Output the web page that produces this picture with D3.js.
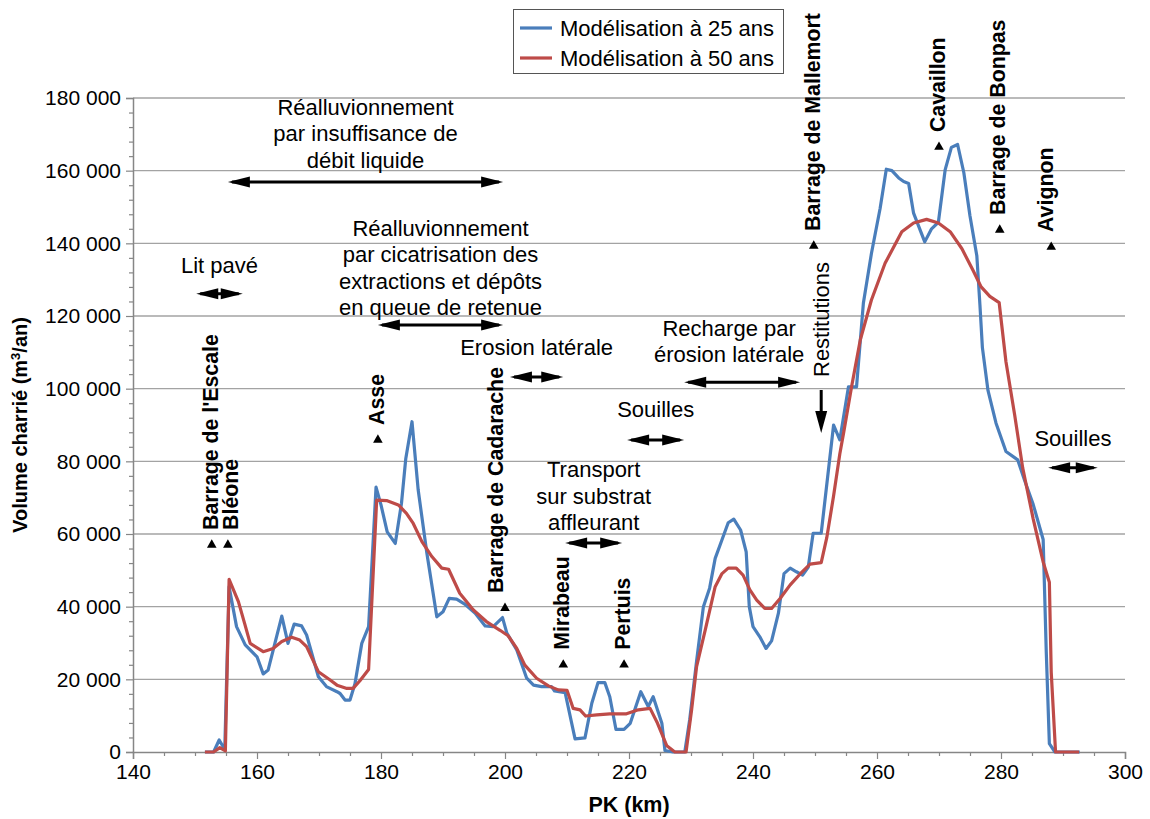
<!DOCTYPE html>
<html><head><meta charset="utf-8">
<script src="https://cdn.jsdelivr.net/npm/d3@7"></script>
<style>
body{margin:0;background:#fff}
text{font-family:"Liberation Sans",Arial,sans-serif;fill:#000}
</style>
</head><body>
<svg id="chart" width="1150" height="819"></svg>
<script>
// ---------------- DATA ----------------
const seriesNames = ["Modélisation à 25 ans", "Modélisation à 50 ans"];

const pk25 = [151.6,153.0,153.9,154.8,155.5,156.7,158.1,160.0,161.0,161.8,164.0,165.0,166.0,167.2,168.0,169.9,171.2,172.9,173.4,174.2,175.0,175.8,176.9,178.0,179.2,180.0,181.0,182.3,183.3,184.0,185.0,186.0,187.4,189.0,190.0,191.0,192.2,193.5,195.2,196.8,198.1,199.6,200.3,201.9,203.5,204.6,205.9,207.5,208.0,209.7,211.3,212.9,214.0,215.0,216.1,216.9,217.9,219.2,220.2,221.9,223.1,223.9,225.3,225.8,227.1,229.0,229.8,230.9,232.0,233.0,233.9,235.0,236.0,236.9,238.0,238.9,239.4,240.0,241.1,242.1,243.0,244.1,245.0,246.0,247.0,248.0,248.9,249.7,251.0,253.0,254.0,255.4,256.7,257.8,259.1,260.5,261.5,262.4,263.5,264.3,265.1,265.9,267.7,268.8,269.9,271.0,272.0,273.0,274.0,275.0,276.1,276.6,277.0,277.9,279.2,280.8,282.7,283.8,285.2,286.8,287.3,287.8,288.7,292.7];
const vol25 = [0,0,3300,700,45500,34500,29500,26200,21500,22600,37400,29900,35200,34700,32200,20700,18000,16600,16100,14300,14300,18800,29900,34500,72900,68000,60600,57400,68400,80800,90900,72100,54700,37200,38600,42300,42100,40700,38200,34700,34500,37000,32700,28100,20300,18400,18000,18000,16800,16300,3600,3900,13400,19100,19100,15200,6200,6200,7900,16600,12500,15200,7900,400,0,0,9000,25000,40000,45100,53300,58400,63100,64100,61100,55100,40000,34500,31700,28500,30600,38200,49100,50600,49600,48700,50800,60200,60200,90000,85900,100500,100500,123500,137200,149600,160400,160000,158000,157000,156500,148300,140400,144000,145800,160300,166400,167200,159500,147500,136600,123100,111300,99500,90500,82700,80400,74800,68100,58500,27600,2300,0,0];

const pk50 = [151.6,153.0,154.0,154.9,155.5,157.0,158.0,158.9,161.0,162.6,164.0,165.6,166.9,168.0,169.9,171.8,172.9,174.5,175.5,176.6,178.0,179.3,180.9,182.8,184.1,185.2,186.6,188.2,189.8,190.9,192.7,194.9,197.0,199.2,200.5,201.9,203.2,205.1,207.0,208.6,210.0,211.0,212.1,213.0,214.8,216.9,219.6,221.5,223.4,224.6,226.1,227.4,229.2,230.1,230.9,232.3,233.9,235.0,236.0,237.3,238.4,239.5,240.6,241.9,243.0,244.4,246.0,247.6,249.2,251.0,251.9,253.0,254.0,254.6,255.9,257.3,259.1,261.3,264.0,265.9,268.0,269.9,271.8,273.7,275.5,276.8,278.2,279.7,280.8,282.2,283.5,285.2,286.8,287.8,288.1,288.8,292.6];
const vol50 = [0,0,1200,300,47500,41400,35400,29900,27600,28500,30400,31600,30800,29000,22100,19800,18400,17500,17500,19600,22700,69300,69200,68000,65700,62900,57900,53800,50600,50300,43700,39100,35900,33500,32000,28500,23900,20300,18200,17100,17000,12000,11600,9900,10200,10500,10500,11600,12000,7900,1700,0,0,11600,23500,33600,45500,49100,50600,50600,48700,44600,41800,39500,39500,42300,46000,49000,51700,52100,59000,70500,82000,87700,100500,113400,124400,134500,143200,145600,146600,145600,143200,138500,132500,128000,125400,123700,107400,92800,78200,64100,52300,46700,22000,0,0];

const xTicks = [140,160,180,200,220,240,260,280,300];
const yTicks = [0,20000,40000,60000,80000,100000,120000,140000,160000,180000];

// sites (triangle markers) : name, PK, volume level of marker
const siteNames = ["Barrage de l'Escale","Bléone","Asse","Barrage de Cadarache","Mirabeau","Pertuis","Barrage de Mallemort","Cavaillon","Barrage de Bonpas","Avignon"];
const sitePK   = [152.7,155.3,179.5,200.0,209.4,219.2,249.8,270.0,279.8,288.1];
const siteVol  = [57000,57000,85900,39600,24000,24000,139300,166500,143700,139000];

// zones (double arrows) : label lines, PK start/end, volume level of arrow
const zoneLabels = [
  ["Réalluvionnement","par insuffisance de","débit liquide"],
  ["Lit pavé"],
  ["Réalluvionnement","par cicatrisation des","extractions et dépôts","en queue de retenue"],
  ["Erosion latérale"],
  ["Recharge par","érosion latérale"],
  ["Souilles"],
  ["Transport","sur substrat","affleurant"],
  ["Souilles"]
];
const zoneStart = [155.3,150.2,179.5,200.8,228.9,219.7,209.7,287.6];
const zoneEnd   = [199.7,157.7,199.7,209.4,247.6,228.9,218.9,295.6];
const zoneVol   = [156900,126100,117500,103200,101800,85900,57500,78200];

const restitutionLabel = "Restitutions";
const restitutionPK = 251.0;

// ---------------- LAYOUT ----------------
const plot = {left:133, right:1125, top:98, bottom:752};
const FS = 21, FA = 22;
const blue = "#4a7ebb", red = "#be4b48";

const svg = d3.select("#chart");
const x = d3.scaleLinear().domain([140,300]).range([plot.left, plot.right]);
const y = d3.scaleLinear().domain([0,180000]).range([plot.bottom, plot.top]);

const fmt = v => d3.format(",")(v).replace(/,/g, " ");

// gridlines
svg.append("g").selectAll("line").data(yTicks.filter(d=>d>0)).join("line")
  .attr("x1", plot.left).attr("x2", plot.right)
  .attr("y1", d=>y(d)).attr("y2", d=>y(d))
  .attr("stroke", "#a3a3a3").attr("stroke-width", 1.3);

// y axis
svg.append("g").attr("transform", `translate(${plot.left},0)`)
  .call(d3.axisLeft(y).tickValues(yTicks).tickFormat(fmt).tickSize(7).tickPadding(5));
const yMinor = svg.append("g").attr("transform", `translate(${plot.left},0)`)
  .call(d3.axisLeft(y).tickValues(d3.range(0,180001,4000).filter(v=>v%20000!==0)).tickFormat("").tickSize(4));
yMinor.select(".domain").remove();

// x axis
svg.append("g").attr("transform", `translate(0,${plot.bottom})`)
  .call(d3.axisBottom(x).tickValues(xTicks).tickFormat(d3.format("d")).tickSize(7).tickPadding(5));
const xMinor = svg.append("g").attr("transform", `translate(0,${plot.bottom})`)
  .call(d3.axisBottom(x).tickValues(d3.range(140,301,5).filter(v=>v%20!==0)).tickFormat("").tickSize(4));
xMinor.select(".domain").remove();

svg.selectAll(".domain").attr("stroke", "#868686").attr("stroke-width", 1.5);
svg.selectAll(".tick line").attr("stroke", "#868686").attr("stroke-width", 1.2);
svg.selectAll(".tick text").attr("font-size", FS).attr("font-family", '"Liberation Sans",Arial,sans-serif').attr("fill", "#000");

// axis titles
svg.append("text").attr("x", x(220)).attr("y", 812)
  .attr("text-anchor", "middle").attr("font-size", 21.5).attr("font-weight", "bold").text("PK (km)");
const yt = svg.append("text").attr("transform", `translate(27,${(plot.top+plot.bottom)/2}) rotate(-90)`)
  .attr("text-anchor", "middle").attr("font-size", 20).attr("font-weight", "bold");
yt.append("tspan").text("Volume charrié (m");
yt.append("tspan").attr("font-size", 13).attr("dy", -7).text("3");
yt.append("tspan").attr("dy", 7).text("/an)");

// series
const line = d3.line().x(d=>x(d[0])).y(d=>y(d[1]));
const s25 = pk25.map((p,i)=>[p, vol25[i]]);
const s50 = pk50.map((p,i)=>[p, vol50[i]]);
svg.append("path").datum(s25).attr("d", line).attr("fill","none").attr("stroke", blue).attr("stroke-width", 3.2).attr("stroke-linejoin","round");
svg.append("path").datum(s50).attr("d", line).attr("fill","none").attr("stroke", red).attr("stroke-width", 3.2).attr("stroke-linejoin","round");

// site markers and vertical labels
const siteDx = [6,10,6,-2,6,6,6,6,5,2];
const tri = d3.symbol().type(d3.symbolTriangle).size(40);
siteNames.forEach((n,i)=>{
  const tx = x(sitePK[i]), ty = y(siteVol[i]);
  svg.append("path").attr("d", tri).attr("transform", `translate(${tx},${ty})`).attr("fill","#000");
  svg.append("text").attr("transform", `translate(${tx+siteDx[i]},${ty-15}) rotate(-90)`)
    .attr("font-size", 21.3).attr("font-weight","bold").text(n);
});

// double arrows
function dArrow(x1, x2, yy, head=22, hw=5.5){
  const g = svg.append("g");
  g.append("line").attr("x1", x1+4).attr("x2", x2-4).attr("y1", yy).attr("y2", yy).attr("stroke","#000").attr("stroke-width",3);
  g.append("path").attr("d", `M${x1},${yy} L${x1+head},${yy-hw} L${x1+head},${yy+hw} Z`).attr("fill","#000");
  g.append("path").attr("d", `M${x2},${yy} L${x2-head},${yy-hw} L${x2-head},${yy+hw} Z`).attr("fill","#000");
}
const zoneGap = [22,29,18,30,28,31,21,30];
const zoneTextDx = [0,0,0,0,-13,0,0,0];
const LH = 26.5;
zoneLabels.forEach((lines,i)=>{
  const x1 = x(zoneStart[i]), x2 = x(zoneEnd[i]), yy = y(zoneVol[i]);
  dArrow(x1, x2, yy);
  const cx = (x1+x2)/2 + zoneTextDx[i];
  const lastC = yy - zoneGap[i];
  lines.forEach((t,k)=>{
    const c = lastC - (lines.length-1-k)*LH;
    svg.append("text").attr("x", cx).attr("y", c + 8).attr("text-anchor","middle").attr("font-size", FA).text(t);
  });
});

// Restitutions label + down arrow
const rx = x(restitutionPK);
svg.append("text").attr("transform", `translate(${rx+8},377) rotate(-90)`).attr("font-size", FA).text(restitutionLabel);
svg.append("line").attr("x1", rx).attr("x2", rx).attr("y1", 390).attr("y2", 415).attr("stroke","#000").attr("stroke-width",3);
svg.append("path").attr("d", `M${rx},433 L${rx-6},411 L${rx+6},411 Z`).attr("fill","#000");

// legend
const lg = svg.append("g");
lg.append("rect").attr("x", 513.5).attr("y", 9.5).attr("width", 270).attr("height", 64)
  .attr("fill","#fff").attr("stroke","#555").attr("stroke-width",1);
[blue, red].forEach((c,i)=>{
  const cy = 28 + i*30;
  lg.append("line").attr("x1",520).attr("x2",552).attr("y1",cy).attr("y2",cy).attr("stroke",c).attr("stroke-width",3.2);
  lg.append("text").attr("x",560).attr("y",cy+8).attr("font-size",FA).text(seriesNames[i]);
});
</script>
</body></html>
